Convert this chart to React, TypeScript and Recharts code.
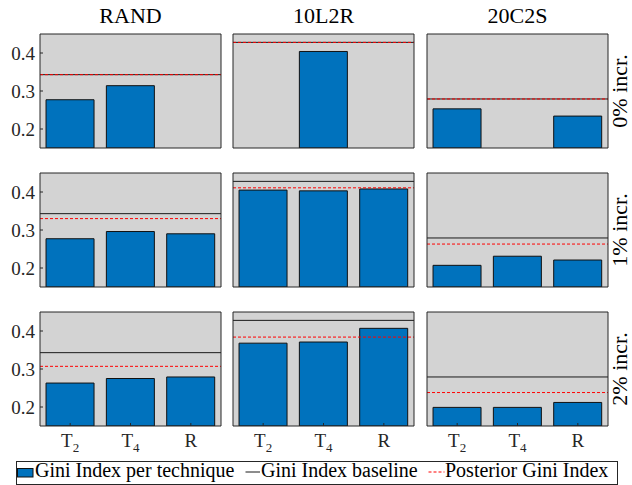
import React from "react";
import { BarChart, Bar, XAxis, YAxis, CartesianGrid, ReferenceLine } from "recharts";

const categories = ["T_2", "T_4", "R"];
const columnNames = ["RAND", "10L2R", "20C2S"];
const rowNames = ["0% incr.", "1% incr.", "2% incr."];
const yTicks = [0.2, 0.3, 0.4];
const yDomain = [0.15, 0.45];

// gini per technique, one row per increment (0%, 1%, 2%)
const giniRAND = [
  [0.277, 0.314, null],
  [0.277, 0.296, 0.29],
  [0.263, 0.275, 0.279],
];
const gini10L2R = [
  [null, 0.404, null],
  [0.405, 0.403, 0.408],
  [0.368, 0.371, 0.407],
];
const gini20C2S = [
  [0.253, null, 0.234],
  [0.207, 0.231, 0.221],
  [0.199, 0.199, 0.212],
];
const baselineGini = [0.343, 0.428, 0.279];
const posteriorRAND = [0.343, 0.33, 0.307];
const posterior10L2R = [0.428, 0.411, 0.384];
const posterior20C2S = [0.279, 0.263, 0.238];

const legendLabels = ["Gini Index per technique", "Gini Index baseline", "Posterior Gini Index"];

const giniByCol = [giniRAND, gini10L2R, gini20C2S];
const posteriorByCol = [posteriorRAND, posterior10L2R, posterior20C2S];

const FONT = "Liberation Serif, DejaVu Serif, serif";
const AXIS = "#262626";
const BLUE = "#0072BD";
const colLeft = [40, 233, 427];
const rowTop = [34, 173, 312];
const PW = 181;
const PH = 114;

function XTick(props: any) {
  const { x, y, payload } = props;
  const [main, sub] = String(payload.value).split("_");
  return (
    <text x={x} y={y + 21} textAnchor="middle" style={{ fontFamily: FONT }} fontSize={19} fill={AXIS}>
      {main}
      {sub && (
        <tspan fontSize={13} dy={5}>
          {sub}
        </tspan>
      )}
    </text>
  );
}

function Panel({ r, c }: { r: number; c: number }) {
  const vals = giniByCol[c][r];
  const data = categories.map((name, i) => ({ name, value: vals[i] }));
  const leftW = c === 0 ? 40 : 1;
  const bottomH = r === 2 ? 30 : 1;
  const tickStyle = { fill: AXIS, fontSize: 19, style: { fontFamily: FONT } };
  return (
    <div style={{ position: "absolute", left: colLeft[c] - leftW, top: rowTop[r] - 1 }}>
      <BarChart
        width={leftW + PW + 1}
        height={1 + PH + bottomH}
        data={data}
        margin={{ top: 0, right: 0, bottom: 0, left: 0 }}
        barCategoryGap="10%"
        style={{ fontFamily: FONT }}
      >
        <CartesianGrid horizontal={false} vertical={false} fill="#d3d3d3" fillOpacity={1} />
        <XAxis
          dataKey="name"
          height={bottomH}
          interval={0}
          tickSize={-3}
          tickMargin={3}
          tick={r === 2 ? <XTick /> : false}
          axisLine={{ stroke: AXIS }}
          tickLine={{ stroke: AXIS }}
        />
        <XAxis
          xAxisId="top"
          orientation="top"
          dataKey="name"
          height={1}
          interval={0}
          tickSize={-3}
          tick={false}
          axisLine={{ stroke: AXIS }}
          tickLine={{ stroke: AXIS }}
        />
        <YAxis
          width={leftW}
          domain={yDomain}
          allowDataOverflow
          ticks={yTicks}
          interval={0}
          tickSize={-3}
          tickMargin={8}
          tickFormatter={(v: number) => v.toFixed(1)}
          tick={c === 0 ? tickStyle : false}
          axisLine={{ stroke: AXIS }}
          tickLine={{ stroke: AXIS }}
        />
        <YAxis
          yAxisId="right"
          orientation="right"
          width={1}
          domain={yDomain}
          allowDataOverflow
          ticks={yTicks}
          interval={0}
          tickSize={-3}
          tick={false}
          axisLine={{ stroke: AXIS }}
          tickLine={{ stroke: AXIS }}
        />
        <Bar dataKey="value" fill={BLUE} stroke="#111" strokeWidth={1} isAnimationActive={false} />
        <ReferenceLine y={baselineGini[c]} stroke="#1a1a1a" strokeWidth={1} />
        <ReferenceLine y={posteriorByCol[c][r]} stroke="#ff0000" strokeWidth={1} strokeDasharray="3 2" />
      </BarChart>
    </div>
  );
}

export default function App() {
  return (
    <div
      style={{
        position: "absolute",
        left: 0,
        top: 0,
        width: 632,
        height: 485,
        background: "#fff",
        overflow: "hidden",
        fontFamily: FONT,
      }}
    >
      {rowNames.map((_, r) => columnNames.map((__, c) => <Panel key={`${r}-${c}`} r={r} c={c} />))}
      <svg width={632} height={485} style={{ position: "absolute", left: 0, top: 0, pointerEvents: "none", fontFamily: FONT }}>
        {columnNames.map((name, c) => (
          <text key={name} x={colLeft[c] + PW / 2} y={23} textAnchor="middle" fontSize={22} fill="#000">
            {name}
          </text>
        ))}
        {rowNames.map((name, r) => (
          <text
            key={name}
            transform={`translate(627, ${rowTop[r] + PH / 2}) rotate(-90)`}
            textAnchor="middle"
            fontSize={22}
            fill="#000"
          >
            {name}
          </text>
        ))}
        <rect x={16.5} y={461.5} width={601} height={23} fill="#fff" stroke={AXIS} />
        <rect x={17.5} y={468.5} width={15.5} height={8.5} fill={BLUE} stroke="#111" />
        <text x={35} y={477} fontSize={20} fill="#000">{legendLabels[0]}</text>
        <line x1={245.5} x2={260} y1={472} y2={472} stroke="#1a1a1a" />
        <text x={261} y={477} fontSize={20} fill="#000">{legendLabels[1]}</text>
        <line x1={428.5} x2={444.5} y1={472} y2={472} stroke="#ff0000" strokeDasharray="3 2" />
        <text x={445} y={477} fontSize={20} fill="#000">{legendLabels[2]}</text>
      </svg>
    </div>
  );
}
